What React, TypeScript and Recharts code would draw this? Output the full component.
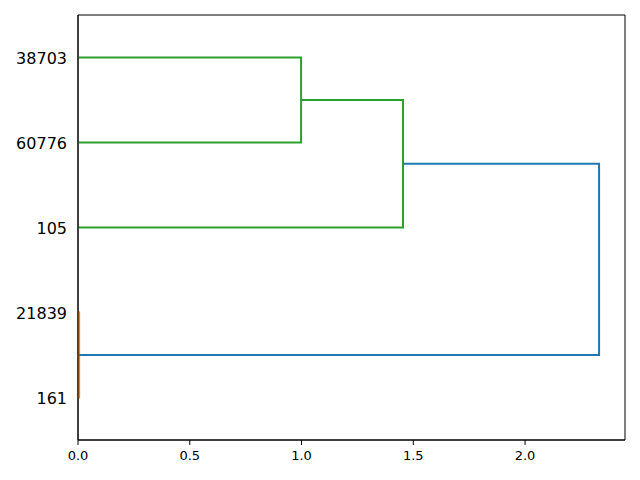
import { LineChart, Line, XAxis, YAxis, ReferenceArea } from 'recharts';

// leaves, bottom to top
const leafLabels = ['161', '21839', '105', '60776', '38703'];
const leafPositions = [5, 15, 25, 35, 45];

// scipy style link coords: icoord = leaf axis, dcoord = distance
const linkIcoord = [
    [5, 5, 15, 15],
    [35, 35, 45, 45],
    [25, 25, 40, 40],
    [10, 10, 32.5, 32.5],
];
const linkDcoord = [
    [0, 0.005, 0.005, 0],
    [0, 0.998, 0.998, 0],
    [0, 1.454, 1.454, 0.998],
    [0.005, 2.331, 2.331, 1.454],
];
const linkColors = ['#ff7f0e', '#2ca02c', '#2ca02c', '#1f77b4'];

const distTicks = [0, 0.5, 1, 1.5, 2];
const distMax = 2.447;

const links = linkIcoord.map((ic, k) =>
    ic.map((pos, j) => ({ x: linkDcoord[k][j], y: pos }))
);

const App = () => {
    const labelFor = (v: number) => {
        const idx = leafPositions.indexOf(v);
        return idx >= 0 ? leafLabels[idx] : '';
    };

    return (
        <div style={{ position: 'absolute', left: 0, top: 0, fontFamily: 'DejaVu Sans' }}>
            <LineChart
                width={640}
                height={480}
                margin={{ top: 15, right: 15, left: 0, bottom: 0 }}
            >
                <XAxis
                    dataKey="x"
                    type="number"
                    domain={[0, distMax]}
                    ticks={distTicks}
                    tickFormatter={(v: number) => v.toFixed(1)}
                    height={40}
                    allowDataOverflow
                    stroke="#000"
                    tickSize={5}
                    tickMargin={6}
                    tick={{ fill: '#000', fontSize: 13 }}
                />
                <YAxis
                    dataKey="y"
                    type="number"
                    domain={[0, 50]}
                    ticks={leafPositions}
                    tickFormatter={labelFor}
                    width={78}
                    allowDataOverflow
                    stroke="#000"
                    tickLine={false}
                    tickSize={0}
                    tickMargin={11}
                    tick={{ fill: '#000', fontSize: 16, dy: 1 }}
                />
                {links.map((pts, k) => (
                    <Line
                        key={k}
                        data={pts}
                        dataKey="y"
                        type="linear"
                        stroke={linkColors[k]}
                        strokeWidth={2}
                        dot={false}
                        activeDot={false}
                        isAnimationActive={false}
                    />
                ))}
                {/* plot frame */}
                <ReferenceArea x1={0} x2={distMax} y1={0} y2={50} fill="none" stroke="#000" strokeWidth={1} ifOverflow="visible" />
            </LineChart>
        </div>
    );
};

export default App;
